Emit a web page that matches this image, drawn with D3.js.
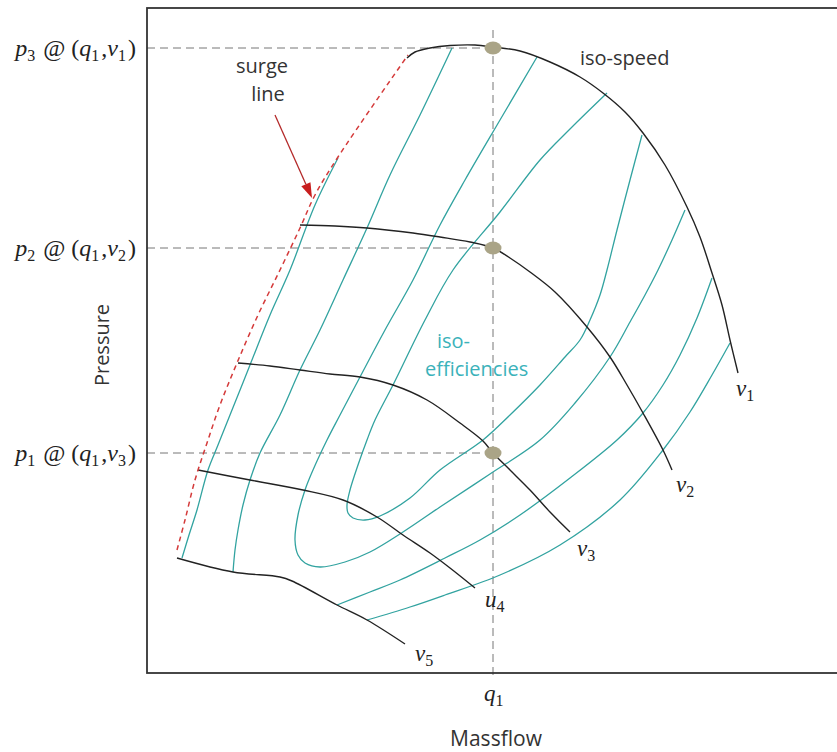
<!DOCTYPE html>
<html>
<head>
<meta charset="utf-8">
<script src="https://cdn.jsdelivr.net/npm/d3@7"></script>
<style>
  body { margin: 0; background: #fff; }
  svg text { font-family: "Open Sans", sans-serif; }
  .math { font-family: "Liberation Serif", "DejaVu Serif", serif; }
</style>
</head>
<body>
<div id="chart"></div>
<script>
// operating point (massflow q1) and pressures p1..p3
var q1 = 69.2;
var pLevels = [125, 85, 44];
var pNames = [["3", "1"], ["2", "2"], ["1", "3"]];

// iso-speed lines, [massflow, pressure]
var speedNames = [["v", "1"], ["v", "2"], ["v", "3"], ["u", "4"], ["v", "5"]];
var speedV1 = [[52,123],[53.6,124.2],[56.6,125],[60.6,125.5],[65.6,125.6],[69.2,125.2],[74.6,124.4],[80.6,122.2],[86.6,119.2],[91.2,116],[95.6,112.2],[99.2,108],[103.6,101.6],[108,93.2],[110.6,87.2],[113,80],[115,73.6],[116.6,66.6],[118.2,60]];
var speedV2 = [[30.6,89.6],[37.6,89.4],[44,89],[53.2,88],[58.6,87.2],[64.6,86.2],[69.2,85],[72.6,83],[76.6,80.2],[81.6,76.2],[88,69.2],[92.6,63.2],[96,57.6],[99.2,52],[103.2,44.6],[105,40.6]];
var speedV3 = [[18.2,62],[24.6,61.4],[30.6,60.6],[36.6,59.8],[42.6,59.2],[49.2,57.6],[56,54.6],[62.6,50],[67.2,46.4],[69.2,44],[72.6,40.6],[76.6,36.6],[80.6,32.2],[84.6,28.2]];
var speedV4 = [[10.2,40.6],[20.6,38.6],[31.2,36.6],[39.2,34.6],[46,31.2],[51.2,27.6],[56.6,24],[60.6,21],[65.6,17]];
var speedV5 = [[6,23],[17.2,20.2],[26.6,19.2],[29,18.4],[38,13.6],[44,10.6],[51.6,5.8]];

// surge line and its pointer
var surge = [[6,24.6],[7.6,30.6],[9.6,38.6],[12,46],[14.6,53.6],[18,62],[22.2,71.6],[26.6,80.6],[30.6,89],[33.6,95.6],[38.2,103.2],[52.2,123.6]];
var surgeArrow = [[25.6,111.6],[33,95]];

// iso-efficiency contours
var effA = [[38.2,103],[33.6,93.6],[28.6,80.6],[24.6,71.6],[20.6,61.6],[16.6,51.6],[14.2,45.6],[12.2,40.6],[10,32.6],[8.4,27.6],[7,23]];
var effB = [[61,125],[54.6,111.6],[48.6,99.6],[44,89],[39.2,78.6],[34.6,68.6],[30.6,60.6],[26.6,51.6],[22.6,44],[20.6,38.6],[19.2,33.6],[18.2,28.6],[17.6,24.6],[17.2,20.2]];
var effC = [[78,123.2],[70.6,110.6],[63.6,98.6],[58.6,89.6],[53.2,78.6],[47.6,68.6],[42.6,59.2],[38.6,51.6],[36,46.6],[33.2,40.6],[31.6,36.6],[30.2,31.6],[29.6,26.6],[30.2,23.6],[31.6,22],[34.6,21.2],[39.6,22.2],[44.6,24.2],[51.2,28.2],[58.6,33.2],[68.6,39.8],[78.6,46.6],[85.6,54],[92.6,63.2],[96.6,70.2],[99.6,75.6],[102.2,80.6],[105,86.6],[107.6,92.6]];
var effD = [[92,116],[84.6,108.8],[78.6,102.6],[70.6,92.2],[61.2,80.6],[55.6,70.6],[49.2,57.6],[45.6,50.6],[44,46.6],[42.2,41.6],[40.6,36.6],[40,33.6],[40.2,32],[41.2,31],[43.6,30.6],[46.6,31.4],[52.6,35],[58.6,40.6],[67.2,46.6],[72.6,51.6],[78.6,57.6],[83.6,63.2],[86.6,66.6],[88.6,70.6],[90.6,75.6],[92,80.6],[94,88.6],[96.6,98.6],[99,107.6]];
var effE = [[38,13.6],[44.6,16.2],[50.6,18.6],[59.6,23],[66.6,26.6],[74.6,31.6],[84.6,39],[94,46.6],[99.2,52],[103.2,57.6],[106.6,63.6],[110,71],[113,79]];
var effF = [[44,10.6],[52.6,13.2],[59.6,15.6],[70.6,19.6],[82.6,25.6],[94.6,34.6],[103.2,44.6],[108.6,52.2],[113,59.6],[116.6,66]];

var W = 837, H = 752;
var xs = d3.scaleLinear().domain([0, 138]).range([147, 837]);
var ys = d3.scaleLinear().domain([0, 133]).range([673, 8]);

var svg = d3.select("#chart").append("svg")
  .attr("width", W).attr("height", H);

var line = d3.line()
  .x(function(d) { return xs(d[0]); })
  .y(function(d) { return ys(d[1]); })
  .curve(d3.curveCatmullRom.alpha(0.5));

// dashed guides
svg.selectAll("line.hguide").data(pLevels).enter().append("line")
  .attr("class", "hguide")
  .attr("x1", xs(0)).attr("x2", xs(q1))
  .attr("y1", function(d) { return ys(d); })
  .attr("y2", function(d) { return ys(d); })
  .attr("stroke", "#777").attr("stroke-width", 1)
  .attr("stroke-dasharray", "8,5");
svg.append("line")
  .attr("x1", xs(q1)).attr("x2", xs(q1))
  .attr("y1", ys(128.6)).attr("y2", ys(-1))
  .attr("stroke", "#777").attr("stroke-width", 1)
  .attr("stroke-dasharray", "8,5");

// efficiency contours
var effs = [effA, effB, effC, effD, effE, effF];
svg.selectAll("path.eff").data(effs).enter().append("path")
  .attr("class", "eff")
  .attr("d", line)
  .attr("fill", "none")
  .attr("stroke", "#32a3a0")
  .attr("stroke-width", 1.3);

// speed lines
var speeds = [speedV1, speedV2, speedV3, speedV4, speedV5];
svg.selectAll("path.speed").data(speeds).enter().append("path")
  .attr("class", "speed")
  .attr("d", line)
  .attr("fill", "none")
  .attr("stroke", "#222")
  .attr("stroke-width", 1.4);

// surge line
svg.append("path")
  .datum(surge)
  .attr("d", line)
  .attr("fill", "none")
  .attr("stroke", "#d43a3a")
  .attr("stroke-width", 1.5)
  .attr("stroke-dasharray", "5,4");

// arrow to surge line
var ax1 = xs(surgeArrow[0][0]), ay1 = ys(surgeArrow[0][1]);
var ax2 = xs(surgeArrow[1][0]), ay2 = ys(surgeArrow[1][1]);
var ang = Math.atan2(ay2 - ay1, ax2 - ax1);
var hl = 15, hw = 5;
var bx = ax2 - hl * Math.cos(ang), by = ay2 - hl * Math.sin(ang);
svg.append("line")
  .attr("x1", ax1).attr("y1", ay1).attr("x2", bx).attr("y2", by)
  .attr("stroke", "#b42a2a").attr("stroke-width", 1.3);
svg.append("polygon")
  .attr("points", [
    [ax2, ay2],
    [bx + hw * Math.sin(ang), by - hw * Math.cos(ang)],
    [bx - hw * Math.sin(ang), by + hw * Math.cos(ang)]
  ].map(function(p) { return p.join(","); }).join(" "))
  .attr("fill", "#c81e1e");

// operating points
svg.selectAll("ellipse.pt").data(pLevels).enter().append("ellipse")
  .attr("class", "pt")
  .attr("cx", xs(q1))
  .attr("cy", function(d) { return ys(d); })
  .attr("rx", 8.5).attr("ry", 6.5)
  .attr("fill", "#aaa487");

// frame
svg.append("rect")
  .attr("x", xs(0)).attr("y", ys(133))
  .attr("width", xs(142) - xs(0)).attr("height", ys(0) - ys(133))
  .attr("fill", "none")
  .attr("stroke", "#333").attr("stroke-width", 1.8);

// math label helper
function mathText(sel, parts) {
  parts.forEach(function(p) {
    if (p[0] === "t") {
      sel.append("tspan").text(p[1]);
    } else {
      sel.append("tspan").attr("font-style", "italic").text(p[1]);
      sel.append("tspan").attr("font-size", "16px").attr("dy", 5).text(p[2]);
      sel.append("tspan").attr("dy", -5).text("\u200A");
    }
  });
}

// left labels
pLevels.forEach(function(p, i) {
  var t = svg.append("text").attr("class", "math")
    .attr("x", 136).attr("y", ys(p) + 8)
    .attr("text-anchor", "end")
    .attr("font-size", "24px").attr("fill", "#222");
  mathText(t, [["m", "p", pNames[i][0]], ["t", " @ ("], ["m", "q", "1"], ["t", ","], ["m", "v", pNames[i][1]], ["t", ")"]]);
});

// speed line labels
var labelOff = [[-2, 23], [4, 22], [7, 24], [10, 19], [10, 17]];
speeds.forEach(function(s, i) {
  var e = s[s.length - 1];
  var t = svg.append("text").attr("class", "math")
    .attr("x", xs(e[0]) + labelOff[i][0]).attr("y", ys(e[1]) + labelOff[i][1])
    .attr("font-size", "23px").attr("fill", "#222");
  mathText(t, [["m", speedNames[i][0], speedNames[i][1]]]);
});

// q1 tick label
var tq = svg.append("text").attr("class", "math")
  .attr("x", xs(q1) - 9).attr("y", 701)
  .attr("font-size", "23px").attr("fill", "#222");
mathText(tq, [["m", "q", "1"]]);

// axis titles
svg.append("text")
  .attr("x", xs(q1) + 3).attr("y", 746)
  .attr("text-anchor", "middle")
  .attr("font-size", "21px").attr("fill", "#333")
  .text("Massflow");
svg.append("text")
  .attr("transform", "translate(109,345) rotate(-90)")
  .attr("text-anchor", "middle")
  .attr("font-size", "20px").attr("fill", "#333")
  .text("Pressure");

// annotations
svg.append("text").attr("x", 262).attr("y", 73)
  .attr("text-anchor", "middle").attr("font-size", "20px").attr("fill", "#333")
  .text("surge");
svg.append("text").attr("x", 268).attr("y", 101)
  .attr("text-anchor", "middle").attr("font-size", "20px").attr("fill", "#333")
  .text("line");
svg.append("text").attr("x", 580).attr("y", 65)
  .attr("font-size", "20px").attr("fill", "#333")
  .text("iso-speed");
svg.append("text").attr("x", 437).attr("y", 348)
  .attr("font-size", "20px").attr("fill", "#3bb2ba")
  .text("iso-");
svg.append("text").attr("x", 425).attr("y", 376)
  .attr("font-size", "20px").attr("fill", "#3bb2ba")
  .text("efficiencies");
</script>
</body>
</html>
